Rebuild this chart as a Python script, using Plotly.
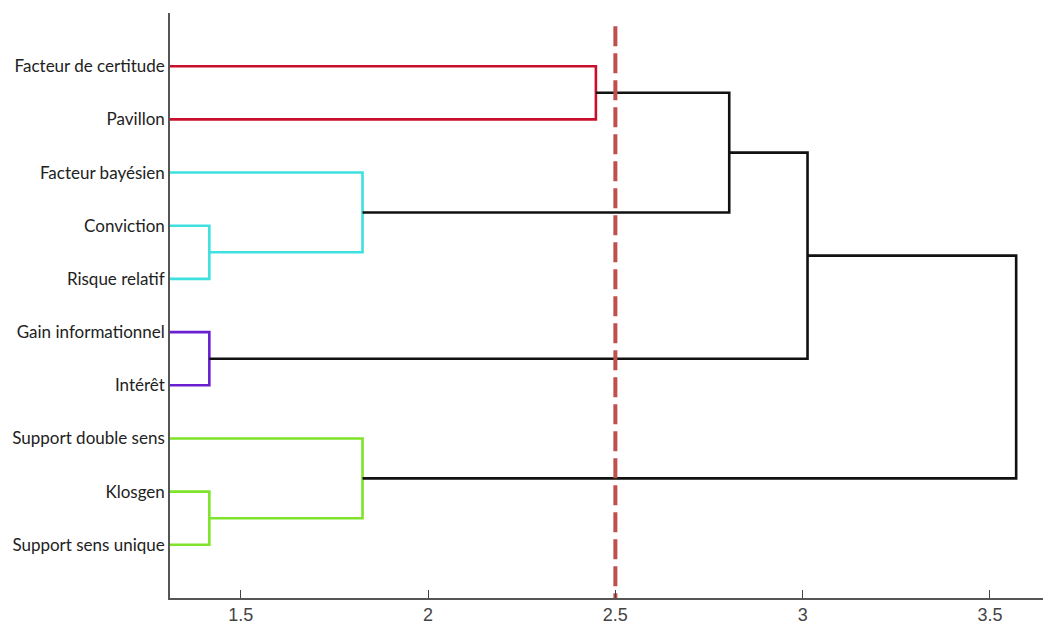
import plotly.graph_objects as go

# ---- data ----
leaf_labels = ["Facteur de certitude", "Pavillon", "Facteur bayésien", "Conviction",
               "Risque relatif", "Gain informationnel", "Intérêt",
               "Support double sens", "Klosgen", "Support sens unique"]
# merges: (left child, right child, height, colour); children are leaf labels or merge names
merge_names = ["A", "B", "C", "D", "E", "F", "G", "H", "I"]
merge_left = ["Facteur de certitude", "Conviction", "Facteur bayésien", "Gain informationnel",
              "Klosgen", "Support double sens", "A", "G", "H"]
merge_right = ["Pavillon", "Risque relatif", "B", "Intérêt",
               "Support sens unique", "E", "C", "D", "F"]
merge_height = [2.448, 1.416, 1.825, 1.416, 1.416, 1.825, 2.804, 3.013, 3.570]
merge_color = ["#c8102e", "#3fe0e0", "#3fe0e0", "#6a1fd0", "#7fe32a", "#7fe32a",
               "#111111", "#111111", "#111111"]
cut_threshold = 2.5
x_ticks = [1.5, 2, 2.5, 3, 3.5]

# ---- build dendrogram ----
pos = {lab: i + 1 for i, lab in enumerate(leaf_labels)}
hgt = {lab: 0.0 for lab in leaf_labels}

fig = go.Figure()
for name, l, r, h, c in zip(merge_names, merge_left, merge_right, merge_height, merge_color):
    yl, yr = pos[l], pos[r]
    fig.add_trace(go.Scatter(
        x=[hgt[l], h, h, hgt[r]], y=[yl, yl, yr, yr], mode="lines",
        line=dict(color=c, width=2.6), hoverinfo="skip", showlegend=False))
    pos[name] = (yl + yr) / 2
    hgt[name] = h

fig.add_trace(go.Scatter(
    x=[cut_threshold, cut_threshold], y=[0.25, 11], mode="lines",
    line=dict(color="#c0504d", width=4, dash="20px,7px"),
    hoverinfo="skip", showlegend=False))

fig.update_layout(
    width=1051, height=624,
    margin=dict(l=162, r=8, t=5, b=34),
    paper_bgcolor="white", plot_bgcolor="white",
    xaxis=dict(range=[1.311, 3.663], tickvals=x_ticks,
               ticktext=[str(v) for v in x_ticks],
               ticks="inside", ticklen=8, tickcolor="#444", tickwidth=1.2,
               showgrid=False, zeroline=False,
               showline=True, linecolor="#555", linewidth=1.6,
               tickfont=dict(family="Liberation Sans, Arial", size=18, color="#444")),
    yaxis=dict(range=[11, 0], tickvals=list(range(1, len(leaf_labels) + 1)),
               ticktext=leaf_labels, ticks="", showgrid=False, zeroline=False,
               showline=True, linecolor="#555", linewidth=1.6, ticklabelstandoff=0,
               tickfont=dict(family="Lato, Open Sans", size=17, color="#222")),
)

fig.write_html("out.html")
